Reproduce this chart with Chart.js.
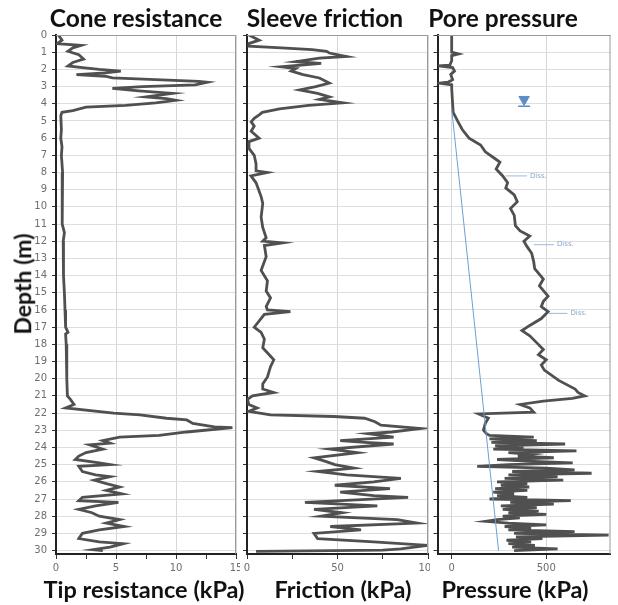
<!DOCTYPE html>
<html>
<head>
<meta charset="utf-8">
<script src="https://cdn.jsdelivr.net/npm/chart.js@4.4.0/dist/chart.umd.min.js"></script>
<style>
  body { margin: 0; background: #fff; width: 618px; height: 605px; position: relative; overflow: hidden; font-family: Lato, sans-serif; }
  canvas { position: absolute; top: 0; }
  .lbl { position: absolute; font-weight: bold; font-size: 23.5px; line-height: 1.2; white-space: nowrap; transform: translate(-50%, -50%); color: #111; }
  .top { font-size: 24.5px; }
</style>
</head>
<body>
<canvas id="cone" width="240" height="605" style="left:0"></canvas>
<canvas id="sleeve" width="190" height="605" style="left:240px"></canvas>
<canvas id="pore" width="188" height="605" style="left:430px"></canvas>

<div class="lbl top" style="left:136px;top:18px">Cone resistance</div>
<div class="lbl top" style="left:325px;top:18px">Sleeve friction</div>
<div class="lbl top" style="left:503px;top:18px">Pore pressure</div>
<div class="lbl" style="left:23px;top:284px;font-size:23px;transform:translate(-50%,-50%) rotate(-90deg)">Depth (m)</div>
<div class="lbl" style="left:144px;top:589px">Tip resistance (kPa)</div>
<div class="lbl" style="left:343px;top:589px">Friction (kPa)</div>
<div class="lbl" style="left:515px;top:589px">Pressure (kPa)</div>

<script>
// cone resistance (kPa) vs depth (m)
var coneDepth = [0, 0.3, 0.5, 0.6, 0.75, 0.95, 1.15, 1.4, 1.6, 1.8,
  1.9, 2.0, 2.1, 2.2, 2.3, 2.4, 2.5, 2.7, 2.75, 2.9,
  3.0, 3.1, 3.25, 3.4, 3.6, 3.7, 3.8, 3.95, 4.1, 4.2,
  4.4, 4.5, 4.7, 5.5, 6.0, 6.5, 7.0, 8.0, 9.0, 10.0,
  11.0, 11.5, 12.0, 13.0, 14.0, 15.0, 16.0, 17.0, 17.3, 17.4,
  18.0, 19.0, 20.0, 21.0, 21.2, 21.5, 21.7, 22.0, 22.1, 22.3,
  22.4, 22.6, 22.8, 22.85, 23.0, 23.1, 23.3, 23.4, 23.6, 23.75,
  23.85, 24.1, 24.3, 24.5, 24.7, 24.9, 25.0, 25.1, 25.4, 25.6,
  25.7, 25.9, 26.1, 26.3, 26.5, 26.7, 26.9, 27.1, 27.2, 27.4,
  27.6, 27.8, 28.0, 28.2, 28.4, 28.6, 28.8, 29.0, 29.3, 29.5,
  29.6, 29.8, 29.95, 30.0];
var coneQc = [0.2, 0.5, 0.1, 2.1, 1.4, 1.0, 1.9, 2.3, 1.4, 1.0,
  2.2, 3.6, 5.4, 4.1, 1.7, 4.1, 4.7, 11.9, 12.6, 11.6,
  7.2, 4.7, 6.9, 9.7, 7.5, 9.2, 10.0, 8.3, 5.8, 2.5,
  1.4, 0.5, 0.4, 0.45, 0.4, 0.5, 0.45, 0.55, 0.5, 0.5,
  0.55, 0.7, 0.6, 0.65, 0.6, 0.7, 0.75, 0.8, 1.0, 0.8,
  0.85, 0.9, 0.9, 0.95, 1.2, 1.5, 0.8, 4.8, 7.0, 9.2,
  10.9, 11.4, 13.2, 14.7, 12.4, 10.9, 8.6, 5.3, 3.9, 4.5,
  2.8, 3.9, 2.5, 1.9, 1.6, 3.6, 4.5, 1.9, 2.2, 3.3,
  4.5, 3.2, 4.2, 5.3, 4.2, 5.5, 2.2, 1.9, 5.2, 3.3,
  1.9, 3.0, 3.6, 5.3, 4.2, 5.7, 3.6, 2.2, 1.9, 3.6,
  5.6, 4.5, 3.1, 3.9];

// sleeve friction (kPa)
var sleeveDepth = [0, 0.3, 0.5, 0.65, 0.75, 0.85, 0.95, 1.05, 1.25, 1.35,
  1.55, 1.65, 1.85, 1.95, 2.1, 2.3, 2.5, 2.8, 3.0, 3.2,
  3.4, 3.6, 3.75, 3.95, 4.1, 4.3, 4.5, 4.65, 4.85, 5.05,
  5.3, 5.6, 6.0, 6.2, 6.6, 7.0, 7.5, 7.9, 8.0, 8.2,
  8.6, 9.4, 9.8, 10.6, 11.2, 11.8, 12.0, 12.1, 12.25, 12.9,
  13.7, 14.3, 14.9, 15.3, 15.8, 16.0, 16.1, 16.25, 17.0, 17.3,
  17.7, 18.2, 18.9, 19.3, 19.9, 20.3, 20.6, 20.8, 21.0, 21.2,
  21.5, 21.7, 21.9, 22.1, 22.2, 22.3, 22.5, 22.7, 22.9, 23.1,
  23.2, 23.4, 23.6, 23.7, 23.8, 24.1, 24.3, 24.6, 24.8, 25.0,
  25.2, 25.4, 25.6, 25.8, 26.0, 26.2, 26.4, 26.6, 26.8, 26.9,
  27.2, 27.4, 27.6, 27.8, 28.0, 28.2, 28.4, 28.6, 28.8, 29.0,
  29.3, 29.5, 29.7, 29.9, 29.97, 30.05];
var sleeveFs = [1, 6.7, 1, 1, 19, 36, 44, 45.5, 55, 40,
  27, 41, 19, 27, 24.5, 31, 40, 45.5, 38, 29,
  39, 45.5, 40, 53, 34, 18, 8.5, 6.7, 4, 2.3,
  4, 2.3, 6.7, 1.1, 1.1, 4, 5, 5, 11.3, 2.2,
  5, 7.8, 8.7, 7.8, 8.7, 10.6, 8.7, 19.5, 9.6, 10.6,
  7.8, 11.3, 10.6, 13, 10.6, 11.3, 24, 9.6, 4, 7.8,
  9.6, 8.7, 14.8, 13, 11.3, 8.7, 8.7, 14.8, 3, 0.3,
  1, 5.6, 1, 13, 48, 65, 70.7, 74, 96, 80,
  67, 81, 51.5, 65, 81, 46, 61, 37, 43, 48.5,
  59, 39, 55, 85, 70, 48.5, 79, 51.5, 70, 89,
  32, 72, 37, 52.6, 41, 83, 94, 46, 63, 37,
  39, 70, 100, 85, 75, 5];

// pore pressure (kPa)
var poreDepth = [0, 0.5, 1.0, 1.1, 1.2, 1.5, 1.75, 1.8, 1.9, 2.1,
  2.3, 2.6, 2.75, 2.8, 2.9, 3.1, 4.0, 4.5, 5.0, 5.5,
  6.0, 6.4, 6.8, 7.2, 7.4, 7.8, 8.2, 8.6, 8.9, 9.3,
  9.7, 10.1, 10.5, 11.1, 11.4, 11.7, 12.0, 12.3, 12.7, 13.2,
  13.6, 14.2, 14.6, 15.2, 15.5, 15.8, 16.1, 16.5, 16.9, 17.2,
  17.5, 17.9, 18.3, 18.6, 18.9, 19.2, 19.5, 20.1, 20.6, 20.8,
  21.0, 21.15, 21.3, 21.5, 21.7, 21.95, 22.05, 22.3, 22.6, 23.0,
  23.2, 23.3, 23.4, 23.5, 23.6, 23.7, 23.8, 23.9, 24.0, 24.1,
  24.2, 24.3, 24.4, 24.5, 24.6, 24.7, 24.8, 24.9, 25.0, 25.1,
  25.2, 25.3, 25.4, 25.5, 25.6, 25.7, 25.8, 25.9, 26.0, 26.1,
  26.2, 26.3, 26.4, 26.5, 26.6, 26.7, 26.8, 26.9, 27.0, 27.1,
  27.2, 27.3, 27.4, 27.5, 27.6, 27.7, 27.8, 27.9, 28.0, 28.1,
  28.2, 28.3, 28.4, 28.5, 28.6, 28.7, 28.8, 28.9, 29.0, 29.1,
  29.2, 29.3, 29.4, 29.5, 29.6, 29.7, 29.8, 29.9, 30.0];
var poreU = [0, 0, 0, 36, 0, 0, -10, -71, 5, 15,
  -5, 5, -20, -66, 0, 0, 5, 8, 31, 56,
  92, 153, 178, 230, 255, 235, 270, 296, 286, 331,
  347, 311, 331, 337, 362, 413, 382, 398, 423, 434,
  439, 485, 464, 510, 485, 474, 510, 474, 413, 372,
  413, 449, 485, 459, 500, 474, 490, 566, 653, 668,
  704, 638, 485, 362, 413, 434, 143, 194, 178, 168,
  184, 200, 434, 200, 450, 210, 600, 230, 380, 220,
  660, 300, 420, 350, 540, 240, 400, 640, 300, 135,
  500, 650, 320, 740, 300, 560, 280, 590, 240, 400,
  260, 410, 230, 400, 220, 330, 240, 400, 200, 630,
  310, 540, 260, 450, 270, 460, 300, 500, 270, 360,
  240, 180, 300, 500, 280, 420, 300, 650, 330, 830,
  340, 480, 290, 420, 300, 440, 320, 560, 330];

// hydrostatic line and water table
var hydroDepth = [4.3, 30];
var hydroU = [0, 248];
var waterTableDepth = 3.75;
var waterTableU = 383;

// "Diss." marks
var dissDepth = [8.2, 12.2, 16.2];
var dissFrom = [286, 434, 515];
var dissTo = [398, 541, 612];

function pts(xs, ys) {
  var out = [];
  for (var i = 0; i < xs.length; i++) out.push({ x: xs[i], y: ys[i] });
  return out;
}

var tickFont = { family: 'DejaVu Sans', size: 10 };

function depthAxis(showLabels) {
  return {
    type: 'linear', reverse: true, min: 0, max: 30.2,
    afterFit: function (s) { s.width = showLabels ? 56 : 7; s.paddingTop = 0; s.paddingBottom = 0; },
    ticks: { stepSize: 1, includeBounds: false, display: showLabels, padding: 5, color: '#6e6e6e', font: tickFont },
    grid: { color: '#dedede', tickColor: '#333', tickLength: 4 },
    border: { color: '#222', width: 2 }
  };
}

function valueAxis(min, max, step, labelEvery, fixedTicks) {
  return {
    type: 'linear', min: min, max: max,
    afterFit: function (s) { s.height = 51; s.paddingLeft = 0; s.paddingRight = 0; },
    afterBuildTicks: function (s) {
      if (fixedTicks) s.ticks = fixedTicks.map(function (v) { return { value: v }; });
    },
    ticks: {
      stepSize: step, autoSkip: false, maxRotation: 0, padding: 3, color: '#6e6e6e', font: tickFont,
      callback: function (v) { return v % labelEvery === 0 ? v : ''; }
    },
    grid: {
      color: function (c) { return c.tick && c.tick.value % labelEvery === 0 ? '#d6d6d6' : 'rgba(0,0,0,0)'; },
      tickColor: '#333', tickLength: 5
    },
    border: { color: '#222', width: 2 }
  };
}

var framePlugin = {
  id: 'frame',
  afterDatasetsDraw: function (chart) {
    var a = chart.chartArea, c = chart.ctx;
    c.save();
    c.strokeStyle = '#9a9a9a';
    c.lineWidth = 1;
    c.beginPath();
    c.moveTo(a.left, a.top + 0.5); c.lineTo(a.right, a.top + 0.5);
    c.moveTo(a.right - 0.5, a.top); c.lineTo(a.right - 0.5, a.bottom);
    c.stroke();
    c.restore();
  }
};

var dissPlugin = {
  id: 'diss',
  afterDatasetsDraw: function (chart) {
    var xs = chart.scales.x, ys = chart.scales.y, c = chart.ctx;
    c.save();
    c.fillStyle = '#86a6cc';
    c.font = '7px DejaVu Sans';
    c.textBaseline = 'middle';
    for (var i = 0; i < dissDepth.length; i++) {
      c.fillText('Diss.', xs.getPixelForValue(dissTo[i]) + 3, ys.getPixelForValue(dissDepth[i]));
    }
    c.restore();
  }
};

function trace(data) {
  return { data: data, showLine: true, borderColor: '#505050', borderWidth: 2.8, pointRadius: 0, tension: 0 };
}

function makePanel(id, xAxis, yAxis, datasets, padRight, extra) {
  return new Chart(document.getElementById(id), {
    type: 'scatter',
    data: { datasets: datasets },
    options: {
      responsive: false, animation: false,
      layout: { padding: { top: 35, right: padRight, left: 0, bottom: 0 } },
      plugins: { legend: { display: false }, tooltip: { enabled: false } },
      scales: { x: xAxis, y: yAxis }
    },
    plugins: [framePlugin].concat(extra || [])
  });
}

makePanel('cone', valueAxis(0, 15, 2.5, 5), depthAxis(true), [trace(pts(coneQc, coneDepth))], 4);
makePanel('sleeve', valueAxis(0, 100, 25, 50), depthAxis(false), [trace(pts(sleeveFs, sleeveDepth))], 2);

var poreSets = [
  { data: pts(hydroU, hydroDepth), showLine: true, borderColor: '#6d9fd2', borderWidth: 1, pointRadius: 0 }
];
for (var i = 0; i < dissDepth.length; i++) {
  poreSets.push({ data: pts([dissFrom[i], dissTo[i]], [dissDepth[i], dissDepth[i]]), showLine: true, borderColor: '#9bbbe0', borderWidth: 1, pointRadius: 0 });
}
poreSets.push(trace(pts(poreU, poreDepth)));
poreSets.push({ data: [{ x: waterTableU, y: waterTableDepth }], pointStyle: 'triangle', rotation: 180, pointRadius: 6, backgroundColor: '#5b8ec6', borderColor: '#5b8ec6', borderWidth: 1 });
poreSets.push({ data: [{ x: waterTableU, y: waterTableDepth + 0.4 }], pointStyle: 'line', pointRadius: 6, borderColor: '#5b8ec6', borderWidth: 1.5 });

makePanel('pore', valueAxis(-75, 840, 500, 500, [0, 500]), depthAxis(false), poreSets, 1, [dissPlugin]);
</script>
</body>
</html>
